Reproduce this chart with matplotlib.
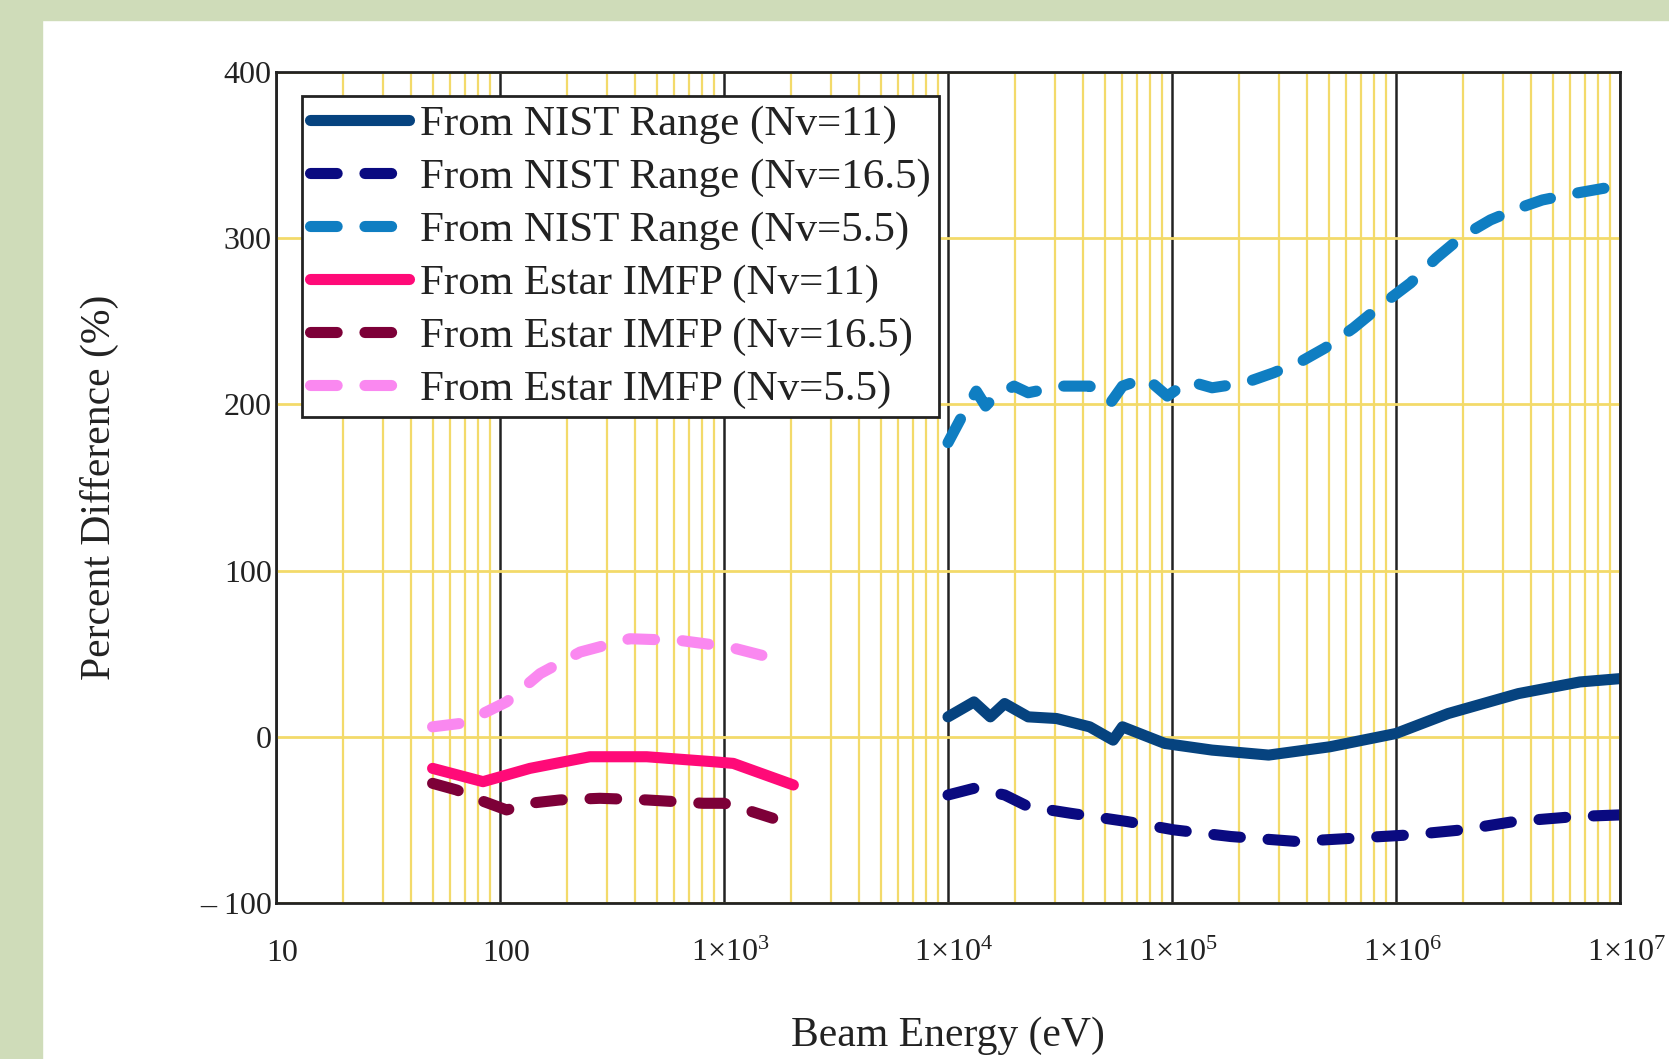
import numpy as np
import matplotlib
matplotlib.use('Agg')
import matplotlib.pyplot as plt
import matplotlib.transforms as mtransforms
from matplotlib.patches import Rectangle
from matplotlib.ticker import LogLocator, NullFormatter

plt.rcParams['font.family'] = 'Liberation Serif'
plt.rcParams['mathtext.fontset'] = 'custom'
plt.rcParams['mathtext.rm'] = 'Liberation Serif'
plt.rcParams['mathtext.it'] = 'Liberation Serif:italic'

# NIST range based curves (10 keV .. 10 MeV)
nist_11_E = [1e4, 13060, 15450, 17900, 22800, 30500, 42900, 54600, 60100, 92900,
             151000, 270000, 507000, 1e6, 1.71e6, 3.52e6, 6.62e6, 1e7]
nist_11 = [12, 21, 12, 20, 12, 11, 6, -2, 6, -4, -8, -11, -6, 2, 14, 26, 33, 35]

nist_165_E = [1e4, 13060, 17900, 22800, 35200, 63100, 102000, 183000, 361000,
              646000, 1.16e6, 1.97e6, 3.36e6, 6.31e6, 1e7]
nist_165 = [-35, -31, -35, -42, -46, -51, -56, -60, -63, -61, -59, -56, -51, -48, -47]

nist_55_E = [1e4, 11560, 13370, 14720, 16250, 19720, 22800, 32000, 42900, 53200,
             60100, 76600, 95300, 118600, 151000, 212000, 284000, 379000, 483000,
             646000, 865000, 1.16e6, 1.51e6, 1.97e6, 2.64e6, 3.52e6, 4.5e6, 6.31e6,
             8.43e6, 1e7]
nist_55 = [177, 193, 208, 199, 205, 211, 207, 211, 211, 201, 211, 216, 205, 214, 210,
           213, 219, 226, 234, 246, 260, 273, 288, 301, 311, 318, 323, 327, 330, 331]

# Estar IMFP based curves (50 eV .. 2 keV)
estar_11_E = [50, 84, 136, 252, 452, 895, 1100, 2040]
estar_11 = [-19, -27, -19, -12, -12, -15, -16, -29]

estar_165_E = [50, 64, 81, 107, 136, 185, 279, 452, 809, 1000, 1262, 1650]
estar_165 = [-28, -32, -38, -44, -40, -38, -37, -38, -40, -40, -44, -49]

estar_55_E = [50, 66, 84, 107, 151, 228, 380, 636, 1060, 1930]
estar_55 = [6, 8, 14, 21, 38, 51, 59, 58, 54, 45]

xticks = [10, 100, 1e3, 1e4, 1e5, 1e6, 1e7]
xtick_labels = ['10', '100', r'$\mathrm{1{\times}10^{3}}$', r'$\mathrm{1{\times}10^{4}}$',
                r'$\mathrm{1{\times}10^{5}}$', r'$\mathrm{1{\times}10^{6}}$',
                r'$\mathrm{1{\times}10^{7}}$']
yticks = [-100, 0, 100, 200, 300, 400]
ytick_labels = ['\u2013 100', '0', '100', '200', '300', '400']

fig = plt.figure(figsize=(16.69, 10.59), dpi=100)
fig.patch.set_facecolor('white')
W, H = 1669, 1059
green = '#cfdcb9'
fig.patches.append(Rectangle((0, 1 - 20 / H), 1, 20 / H, transform=fig.transFigure,
                             color=green, zorder=0))
fig.patches.append(Rectangle((0, 0), 42 / W, 1, transform=fig.transFigure,
                             color=green, zorder=0))

ax = fig.add_axes([276 / W, 1 - 903 / H, 1344 / W, 831 / H])
ax.set_xscale('log')
ax.set_xlim(10, 1e7)
ax.set_ylim(-100, 400)

yellow = '#f3da6a'
ax.set_axisbelow(True)
ax.xaxis.set_minor_locator(LogLocator(base=10, subs=np.arange(2, 10)))
ax.xaxis.set_minor_formatter(NullFormatter())
ax.xaxis.grid(True, which='minor', color=yellow, lw=1.6)
ax.xaxis.grid(True, which='major', color='#222222', lw=1.8)
ax.yaxis.grid(True, which='major', color=yellow, lw=2)

lw = 8
dash = (2.4, 2.5)
kw = dict(lw=lw, solid_capstyle='round', dash_capstyle='round')
ax.plot(nist_11_E, nist_11, color='#06437f', label='From NIST Range (Nv=11)', **kw)
ax.plot(nist_165_E, nist_165, color='#0a0a80', dashes=dash,
        label='From NIST Range (Nv=16.5)', **kw)
ax.plot(nist_55_E, nist_55, color='#0f7ec2', dashes=dash,
        label='From NIST Range (Nv=5.5)', **kw)
ax.plot(estar_11_E, estar_11, color='#ff0a78', label='From Estar IMFP (Nv=11)', **kw)
ax.plot(estar_165_E, estar_165, color='#7d0038', dashes=dash,
        label='From Estar IMFP (Nv=16.5)', **kw)
ax.plot(estar_55_E, estar_55, color='#fa88f0', dashes=dash,
        label='From Estar IMFP (Nv=5.5)', **kw)

ax.set_xticks(xticks)
ax.set_xticklabels(xtick_labels)
ax.set_yticks(yticks)
ax.set_yticklabels(ytick_labels)
ax.tick_params(axis='both', which='both', length=0, labelsize=23, colors='#222222')
ax.tick_params(axis='x', pad=26)
ax.tick_params(axis='y', pad=3)
shift = mtransforms.ScaledTranslation(6 / 100, 0, fig.dpi_scale_trans)
for lab in ax.get_xticklabels():
    lab.set_transform(lab.get_transform() + shift)

for s in ax.spines.values():
    s.set_color('#222222')
    s.set_linewidth(2)

ax.set_ylabel('Percent Difference (%)', fontsize=30, color='#222222')
ax.yaxis.set_label_coords(-0.117, 0.5)
ax.set_xlabel('Beam Energy (eV)', fontsize=30, color='#222222')
ax.xaxis.set_label_coords(0.5, -0.136)

leg = ax.legend(loc='upper left', bbox_to_anchor=(0.019, 0.971), fontsize=31,
                frameon=True, fancybox=False, borderaxespad=0, borderpad=0.2,
                handlelength=2.3, handletextpad=0.25, labelspacing=0.32)
leg.get_frame().set_edgecolor('#222222')
leg.get_frame().set_linewidth(2)
leg.get_frame().set_alpha(1)
for t in leg.get_texts():
    t.set_color('#222222')

fig.savefig('out.png', dpi=100)
